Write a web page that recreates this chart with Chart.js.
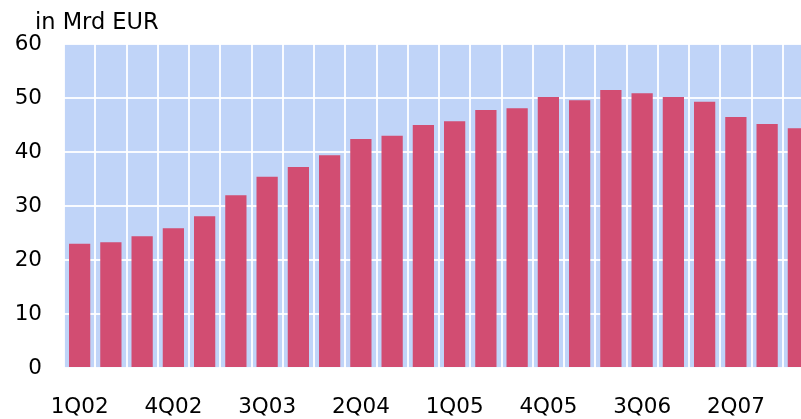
<!DOCTYPE html>
<html>
<head>
<meta charset="utf-8">
<script src="https://cdn.jsdelivr.net/npm/chart.js@4/dist/chart.umd.min.js"></script>
<style>
  html, body { margin: 0; padding: 0; background: #ffffff; overflow: hidden; }
  canvas { display: block; }
</style>
</head>
<body>
<canvas id="chart" width="814" height="419"></canvas>
<script>
// Quarterly volumes, in billions of euros
const quarters = [
  '1Q02', '2Q02', '3Q02', '4Q02',
  '1Q03', '2Q03', '3Q03', '4Q03',
  '1Q04', '2Q04', '3Q04', '4Q04',
  '1Q05', '2Q05', '3Q05', '4Q05',
  '1Q06', '2Q06', '3Q06', '4Q06',
  '1Q07', '2Q07', '3Q07', '4Q07'
];
const volumes = [
  23.0, 23.3, 24.4, 25.9,
  28.1, 32.0, 35.4, 37.2,
  39.4, 42.4, 43.0, 45.0,
  45.7, 47.8, 48.1, 50.2,
  49.6, 51.5, 50.9, 50.2,
  49.3, 46.5, 45.2, 44.4
];
const yTicks = [0, 10, 20, 30, 40, 50, 60];
const unitLabel = 'in Mrd EUR';

const FONT = '"DejaVu Sans", Verdana, sans-serif';
const FONT_SIZE = 21.5;

// Pale blue panel behind the bars, unit caption above the value axis
const plotDecor = {
  id: 'plotDecor',
  beforeDraw(chart) {
    const { ctx, chartArea: a } = chart;
    ctx.save();
    ctx.fillStyle = '#c0d4f8';
    ctx.fillRect(a.left, a.top, a.right - a.left, a.bottom - a.top);
    ctx.fillStyle = '#000000';
    ctx.font = '22.5px ' + FONT;
    ctx.textAlign = 'left';
    ctx.textBaseline = 'alphabetic';
    ctx.fillText(unitLabel, 35, 29);
    ctx.restore();
  }
};

new Chart(document.getElementById('chart'), {
  type: 'bar',
  data: {
    labels: quarters,
    datasets: [{
      data: volumes,
      backgroundColor: '#d24d72',
      borderWidth: 0,
      categoryPercentage: 1.0,
      barPercentage: 0.68
    }]
  },
  options: {
    responsive: false,
    animation: false,
    devicePixelRatio: 1,
    layout: { padding: { left: 0, right: 0, top: 44, bottom: 0 } },
    plugins: {
      legend: { display: false },
      tooltip: { enabled: false },
      title: { display: false }
    },
    scales: {
      x: {
        afterFit(scale) {
          scale.height = 51;
          scale.paddingLeft = 0;
          scale.paddingRight = 0;
        },
        grid: {
          color: 'rgba(255,255,255,0.9)',
          lineWidth: 2,
          drawTicks: false,
          offset: true
        },
        border: { display: false },
        ticks: {
          color: '#000000',
          font: { family: FONT, size: FONT_SIZE, lineHeight: 1.0 },
          padding: 29,
          autoSkip: false,
          maxRotation: 0,
          callback: function (value, index) {
            return index % 3 === 0 ? quarters[index] : '';
          }
        }
      },
      y: {
        min: 0,
        max: 60,
        afterFit(scale) { scale.width = 64; },
        afterBuildTicks(scale) {
          scale.ticks = yTicks.map(v => ({ value: v }));
        },
        grid: {
          color: 'rgba(255,255,255,0.9)',
          lineWidth: 2,
          drawTicks: false
        },
        border: { display: false },
        ticks: {
          color: '#000000',
          font: { family: FONT, size: FONT_SIZE },
          padding: 22
        }
      }
    }
  },
  plugins: [plotDecor]
});
</script>
</body>
</html>
